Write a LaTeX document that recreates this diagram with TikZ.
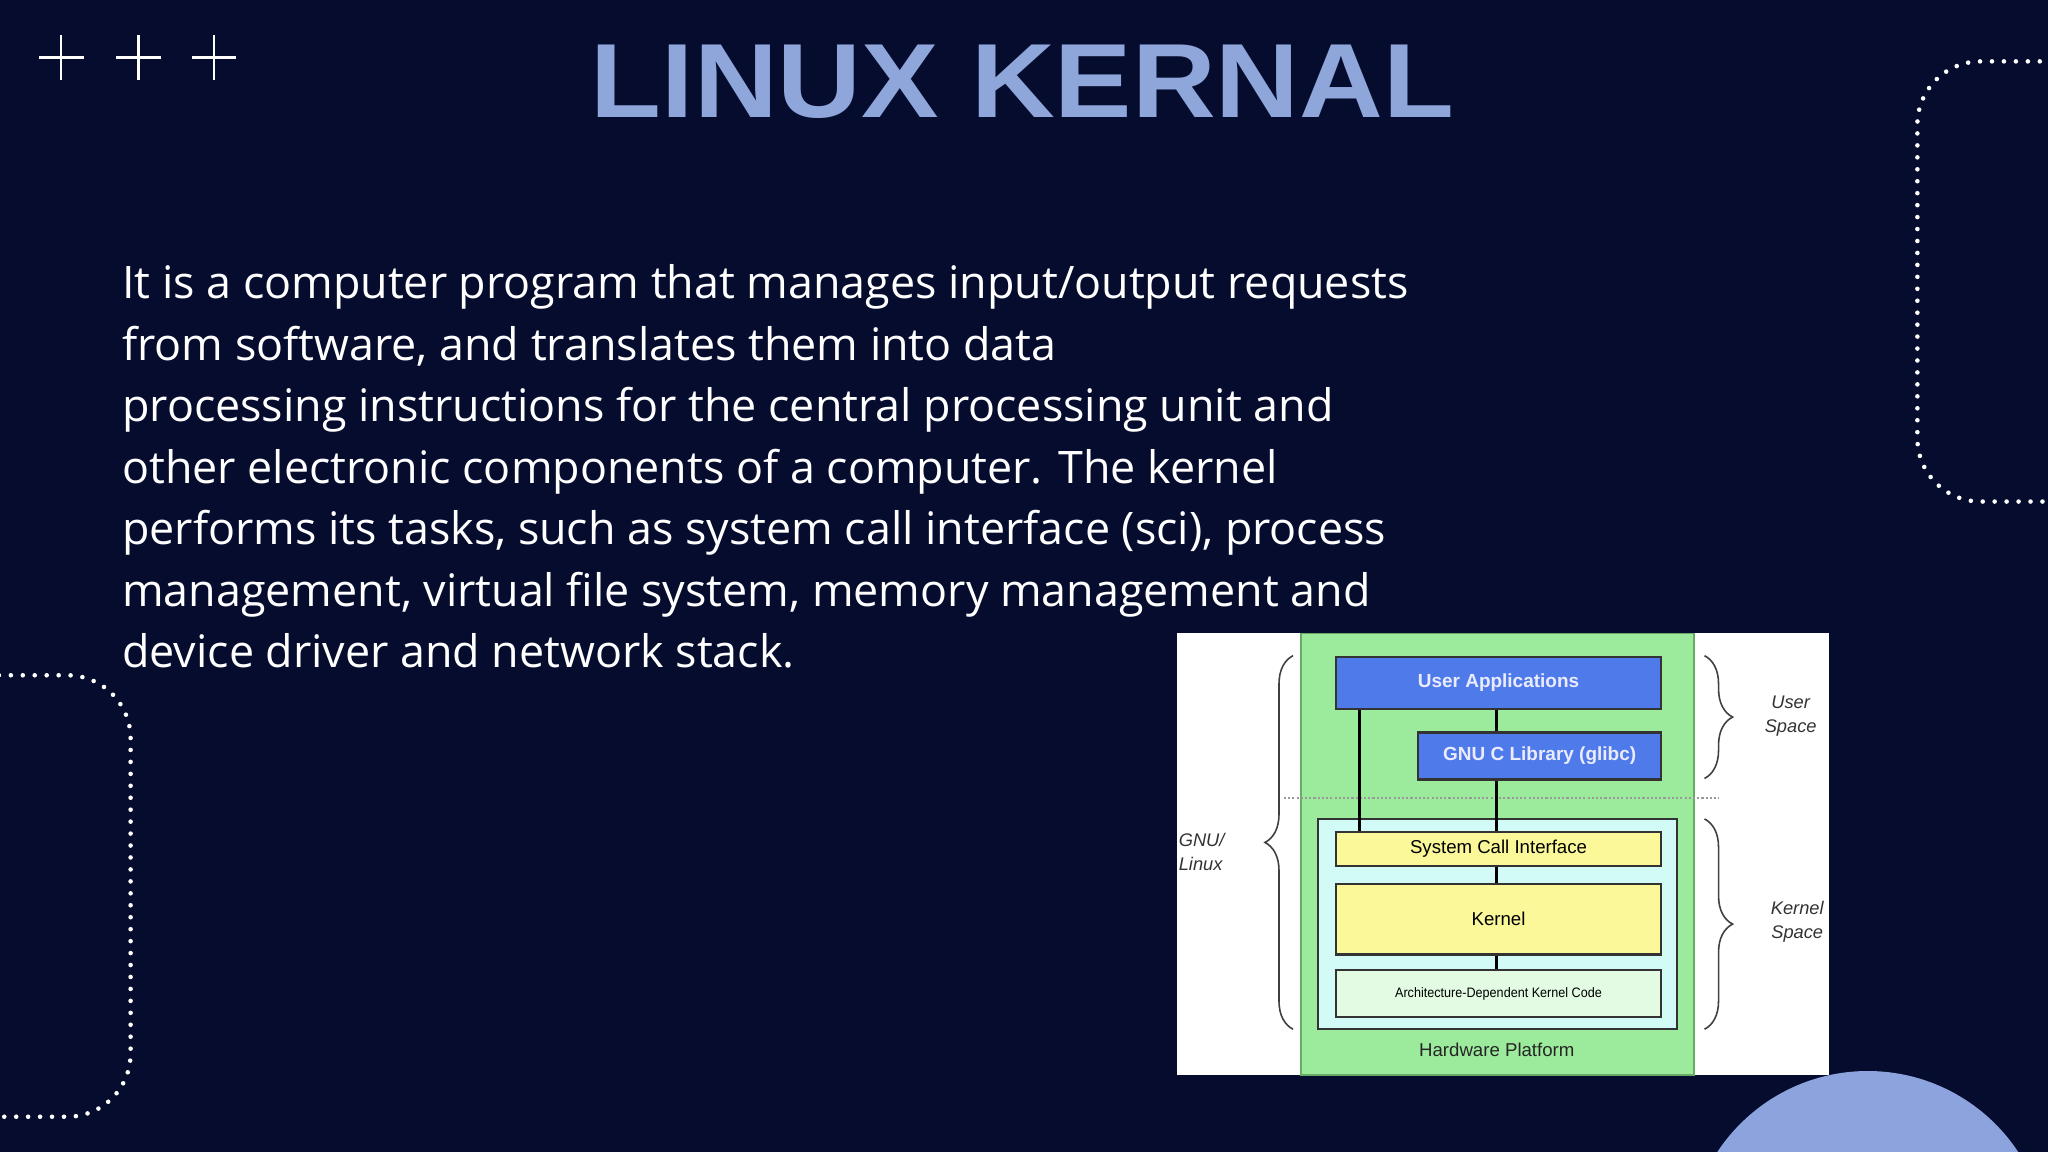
\documentclass[tikz,border=0pt]{standalone}
\usepackage{fontspec}
\setmainfont{Liberation Sans}
\newfontfamily\bodyfont{Open Sans}
\usetikzlibrary{decorations.pathreplacing}
\definecolor{bgc}{HTML}{060C2E}
\definecolor{titlec}{HTML}{8FA6DB}
\definecolor{ublue}{HTML}{4F7BEA}
\definecolor{hgreen}{HTML}{9CEB9C}
\definecolor{kcyan}{HTML}{D2FAF6}
\definecolor{kyellow}{HTML}{FBF89A}
\definecolor{agreen}{HTML}{E2FBE2}
\definecolor{circc}{HTML}{8CA3DE}
\tikzset{
  dotline/.style={white, line width=1.3pt, line cap=round, dash pattern=on 0pt off 3.4pt, rounded corners=18pt},
  plusl/.style={white, line width=0.6pt},
  ubox/.style={draw=black!80, fill=ublue, line width=0.6pt},
  ybox/.style={draw=black!80, fill=kyellow, line width=0.6pt},
  conn/.style={black, line width=0.8pt},
  lbl/.style={font=\fontsize{5.3pt}{6.3pt}\selectfont, inner sep=0pt},
  bracestyle/.style={draw=black!75, line width=0.45pt, decorate, decoration={brace, amplitude=8pt}},
}
\begin{document}
\begin{tikzpicture}[x=0.01306cm, y=-0.01306cm]
\fill[bgc] (0,0) rectangle (1568,882);
\useasboundingbox (0,0) rectangle (1568,882);
\clip (0,0) rectangle (1568,882);
% plus signs
\foreach \cx in {47,106,164}{
  \draw[plusl] (\cx-17,44) -- (\cx+17,44);
  \draw[plusl] (\cx,27) -- (\cx,61);
}
% title
\node[anchor=base, font=\fontsize{30pt}{34pt}\selectfont\bfseries, text=titlec, inner sep=0pt, xscale=1.1] (title) at (783,90) {LINUX KERNAL};
% body
\node[anchor=north west, align=left, text=white, inner sep=0pt, font=\bodyfont\fontsize{12.75pt}{17.5pt}\selectfont] (body) at (93,202) {It is a computer program that manages input/output requests\\from software, and translates them into data\\processing instructions for the central processing unit and\\other electronic components of a computer. The kernel\\performs its tasks, such as system call interface (sci), process\\management, virtual file system, memory management and\\device driver and network stack.};
% dotted shapes
\draw[dotline] (1580,47) -- (1468,47) -- (1468,384) -- (1580,384);
\draw[dotline] (-10,517) -- (100,517) -- (100,855) -- (-10,855);
% circle
\fill[circc] (1430,958) circle (138);
% diagram
\fill[white] (901,485) rectangle (1400,823);
\draw[draw=green!45!black!60, fill=hgreen, line width=0.5pt] (996,485) rectangle (1297,823);
\draw[black!40, line width=0.8pt, dash pattern=on 0.6pt off 0.6pt] (983,611) -- (1316,611);
\draw[draw=black!80, fill=kcyan, line width=0.6pt] (1009,627) rectangle (1284,788);
\node[ubox, minimum width=249*0.01306cm, minimum height=40*0.01306cm, anchor=north west, inner sep=0pt] (ua) at (1022,502) {};
\node[lbl, text=white!92!blue, font=\fontsize{5.4pt}{6.3pt}\selectfont\bfseries] at (ua.center) {User Applications};
\node[ubox, minimum width=186*0.01306cm, minimum height=36*0.01306cm, anchor=north west, inner sep=0pt] (glibc) at (1085,560) {};
\node[lbl, text=white!92!blue, font=\fontsize{5.4pt}{6.3pt}\selectfont\bfseries] at (glibc.center) {GNU C Library (glibc)};
\node[ybox, minimum width=249*0.01306cm, minimum height=26*0.01306cm, anchor=north west, inner sep=0pt] (sci) at (1022,636) {};
\node[lbl] at (sci.center) {System Call Interface};
\node[ybox, minimum width=249*0.01306cm, minimum height=54*0.01306cm, anchor=north west, inner sep=0pt] (kern) at (1022,676) {};
\node[lbl] at (kern.center) {Kernel};
\node[draw=black!80, fill=agreen, line width=0.6pt, minimum width=249*0.01306cm, minimum height=36*0.01306cm, anchor=north west, inner sep=0pt] (arch) at (1022,742) {};
\node[lbl, font=\fontsize{3.9pt}{4.5pt}\selectfont, xscale=0.92] at (arch.center) {Architecture-Dependent Kernel Code};
\node[lbl, text=black!85] (hw) at (1146,804) {Hardware Platform};
% connectors
\draw[conn] (ua.south -| 1041,0) -- (sci.north -| 1041,0);
\draw[conn] (ua.south -| 1146,0) -- (glibc.north -| 1146,0);
\draw[conn] (glibc.south -| 1146,0) -- (sci.north -| 1146,0);
\draw[conn] (sci.south -| 1146,0) -- (kern.north -| 1146,0);
\draw[conn] (kern.south -| 1146,0) -- (arch.north -| 1146,0);
% braces
\draw[bracestyle] (990,788) -- (990,502);
\draw[bracestyle] (1305,502) -- (1305,596);
\draw[bracestyle] (1305,627) -- (1305,788);
\node[lbl, align=left, anchor=west, font=\fontsize{5.2pt}{6.8pt}\selectfont\itshape, text=black!80] (gnu) at (902,652) {GNU/\\Linux};
\node[lbl, align=center, font=\fontsize{5.2pt}{6.8pt}\selectfont\itshape, text=black!80] (us) at (1371,548) {User\\Space};
\node[lbl, align=center, font=\fontsize{5.2pt}{6.8pt}\selectfont\itshape, text=black!80] (ks) at (1376,706) {Kernel\\Space};
\end{tikzpicture}
\end{document}
